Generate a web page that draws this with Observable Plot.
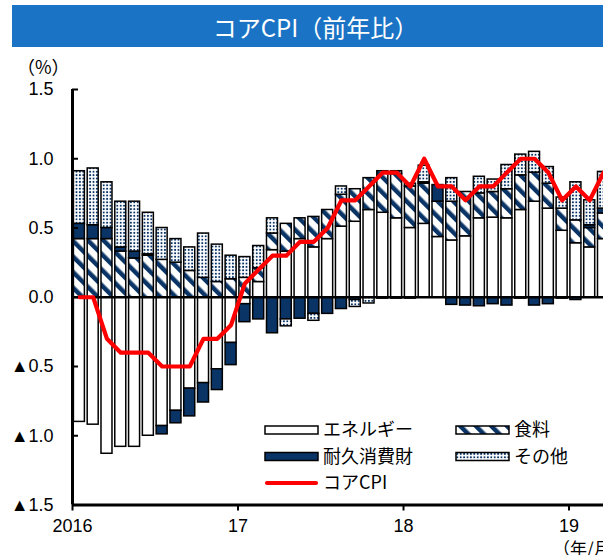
<!DOCTYPE html>
<html><head><meta charset="utf-8">
<script src="https://cdn.jsdelivr.net/npm/d3@7"></script>
<script src="https://cdn.jsdelivr.net/npm/@observablehq/plot@0.6"></script>
<style>
html,body{margin:0;padding:0;background:#fff;overflow:hidden}
#wrap{position:relative;width:603px;height:555px;overflow:hidden;font-family:"Liberation Sans","Noto Sans CJK JP",sans-serif}
#title{position:absolute;left:12px;top:5px;width:575px;padding-left:16px;height:42px;background:#1a73c4;color:#fff;font-family:"Noto Sans CJK JP",sans-serif;font-size:24px;display:flex;align-items:center;justify-content:center;z-index:2;white-space:nowrap}
.lab{position:absolute;font-family:"Noto Sans CJK JP",sans-serif;font-size:18px;color:#000;white-space:nowrap;z-index:2;line-height:1}
svg{overflow:hidden}
</style></head>
<body><div id="wrap">
<div id="title">コアCPI（前年比）</div>
<div class="lab" style="left:17px;top:57px">（%）</div>
<div class="lab" style="left:553px;top:539px;font-size:17px">（年/月）</div>
</div>
<script>
// Months: Jan 2016 .. Mar 2019
const months = ["2016/1","2016/2","2016/3","2016/4","2016/5","2016/6","2016/7","2016/8","2016/9","2016/10","2016/11","2016/12",
"2017/1","2017/2","2017/3","2017/4","2017/5","2017/6","2017/7","2017/8","2017/9","2017/10","2017/11","2017/12",
"2018/1","2018/2","2018/3","2018/4","2018/5","2018/6","2018/7","2018/8","2018/9","2018/10","2018/11","2018/12",
"2019/1","2019/2","2019/3"];
const energy = [-0.90,-0.92,-1.13,-1.08,-1.08,-1.00,-0.93,-0.82,-0.66,-0.62,-0.52,-0.33,
-0.05,0.11,0.34,0.33,0.42,0.36,0.42,0.51,0.545,0.63,0.61,0.57,
0.50,0.53,0.435,0.41,0.44,0.57,0.575,0.57,0.63,0.69,0.64,0.48,
0.39,0.36,0.42];
const food = [0.42,0.42,0.42,0.33,0.28,0.30,0.27,0.25,0.19,0.14,0.11,0.13,
0.14,0.10,0.12,0.20,0.15,0.22,0.21,0.23,0.235,0.23,0.30,0.32,
0.30,0.29,0.255,0.28,0.32,0.18,0.185,0.21,0.25,0.21,0.18,0.16,
0.165,0.14,0.185];
const durable = [0.11,0.10,0.08,0.03,0.05,0.01,-0.06,-0.09,-0.20,-0.14,-0.15,-0.16,
-0.13,-0.16,-0.26,-0.16,-0.155,-0.12,-0.12,-0.085,-0.02,0,-0.01,-0.01,
-0.01,0.01,0.12,-0.055,-0.06,-0.065,-0.05,-0.06,-0.01,-0.06,-0.05,-0.01,
-0.02,0.02,0.035];
const other = [0.38,0.41,0.33,0.33,0.36,0.30,0.23,0.17,0.17,0.32,0.27,0.17,
0.15,0.16,0.11,-0.05,0,-0.05,0,0.06,-0.05,-0.045,0,0.02,
0.02,0.12,0,0.17,0,0.12,0.09,0.175,0.15,0.15,0.12,0.08,
0.275,0.18,0.265];
const coreCPI = [0,0,-0.3,-0.4,-0.4,-0.4,-0.5,-0.5,-0.5,-0.3,-0.3,-0.2,
0.1,0.2,0.3,0.3,0.4,0.4,0.5,0.7,0.7,0.8,0.9,0.9,
0.8,1.0,0.8,0.8,0.7,0.8,0.8,0.9,1.0,1.0,0.9,0.7,
0.8,0.7,0.9];
const seriesNames = ["エネルギー","食料","耐久消費財","その他"];
const lineName = "コアCPI";
const yTicks = [-1.5,-1.0,-0.5,0,0.5,1.0,1.5];
const xTicks = [0,12,24,36];
const xTickLabels = ["2016","17","18","19"];

const navy = "#0a3466";
const fills = ["white","url(#hatch)",navy,"url(#dots)"];

const seriesArrays = [energy, food, durable, other];
const bars = [];
months.forEach((m, i) => {
  seriesArrays.forEach((arr, k) => {
    if (arr[i] !== 0) bars.push({i, month: m, series: seriesNames[k], value: arr[i]});
  });
});
const linePts = coreCPI.map((v, i) => ({x: i + 0.5, month: months[i], value: v}));

const plot = Plot.plot({
  width: 603, height: 555,
  marginLeft: 72, marginRight: 0, marginTop: 89, marginBottom: 50.5,
  style: {fontFamily: '"Liberation Sans","Noto Sans CJK JP",sans-serif', fontSize: "17px", color: "black", background: "transparent", overflow: "hidden"},
  x: {domain: [0, 38.5]},
  y: {domain: [-1.5, 1.5]},
  color: {domain: seriesNames, range: fills},
  marks: [
    Plot.rectY(bars, {x: "i", interval: 1, y: "value", fill: "series", stroke: "black", strokeWidth: 1.5, insetLeft: 1.4, insetRight: 1.4, clip: true}),
    Plot.ruleY([0], {stroke: "black", strokeWidth: 2.5}),
    Plot.line(linePts, {x: "x", y: "value", stroke: "#ff0000", strokeWidth: 4.2, strokeLinejoin: "round", strokeLinecap: "round", clip: true}),
    Plot.ruleX([0], {stroke: "black", strokeWidth: 3}),
    Plot.ruleY([-1.5], {stroke: "black", strokeWidth: 3}),
    Plot.axisY({ticks: yTicks, tickSize: 6, dx: 6, tickPadding: 19, strokeWidth: 2, label: null, fontSize: 18,
      tickFormat: d => d < 0 ? "▲" + (-d).toFixed(1) : d.toFixed(1)}),
    Plot.axisX({ticks: xTicks, tickSize: 6, tickPadding: 8, strokeWidth: 2, label: null, fontSize: 18,
      tickFormat: d => xTickLabels[xTicks.indexOf(d)]})
  ]
});

const svg = d3.select(plot);
const defs = svg.insert("defs", ":first-child");
const hp = 11;
const h = defs.append("pattern").attr("id", "hatch").attr("patternUnits", "userSpaceOnUse")
  .attr("width", hp).attr("height", hp).attr("patternTransform", "rotate(-45)");
h.append("rect").attr("width", hp).attr("height", hp).attr("fill", "white");
h.append("rect").attr("width", 4.5).attr("height", hp).attr("fill", navy);
const dp = 3.4;
const p = defs.append("pattern").attr("id", "dots").attr("patternUnits", "userSpaceOnUse")
  .attr("width", dp).attr("height", dp);
p.append("rect").attr("width", dp).attr("height", dp).attr("fill", "white");
p.append("rect").attr("x", 0.8).attr("y", 0.8).attr("width", 1.8).attr("height", 1.8).attr("fill", navy);

// Legend
const lg = svg.append("g").attr("font-family", '"Noto Sans CJK JP",sans-serif').attr("font-size", 18).attr("text-anchor", "start");
const items = [
  {name: seriesNames[0], fill: fills[0], x: 265, y: 430},
  {name: seriesNames[1], fill: fills[1], x: 456, y: 430},
  {name: seriesNames[2], fill: fills[2], x: 265, y: 456.5},
  {name: seriesNames[3], fill: fills[3], x: 456, y: 456.5}
];
items.forEach(it => {
  lg.append("rect").attr("x", it.x).attr("y", it.y - 4).attr("width", 53).attr("height", 8)
    .attr("fill", it.fill).attr("stroke", "black").attr("stroke-width", 1.5);
  lg.append("text").attr("x", it.x + 58).attr("y", it.y).attr("dy", "0.36em").text(it.name);
});
lg.append("line").attr("x1", 267).attr("x2", 316).attr("y1", 483).attr("y2", 483)
  .attr("stroke", "#ff0000").attr("stroke-width", 4.2).attr("stroke-linecap", "round");
lg.append("text").attr("x", 323).attr("y", 483).attr("dy", "0.36em").text(lineName);

const wrap = document.getElementById("wrap");
plot.style.position = "absolute";
plot.style.left = "0px";
plot.style.top = "0px";
wrap.appendChild(plot);
</script>
</body></html>
